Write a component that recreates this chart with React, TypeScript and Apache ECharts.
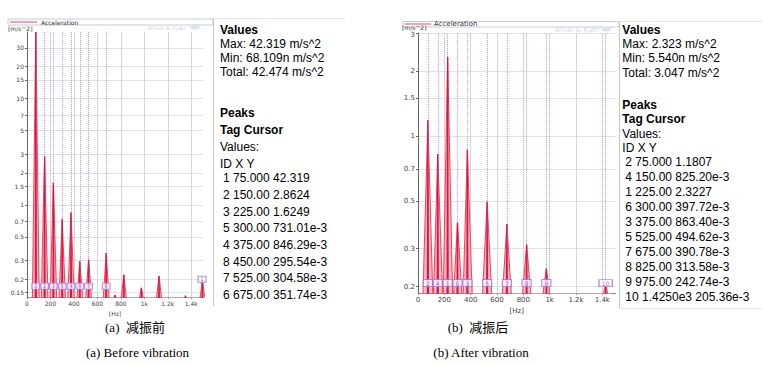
import React, { useEffect, useRef } from "react";
import * as echarts from "echarts";

// ---------- data ----------
const leftTagIds = ["1", "2", "3", "5", "4", "8", "7", "6"];
const leftTagX = ["75.000", "150.00", "225.00", "300.00", "375.00", "450.00", "525.00", "675.00"];
const leftTagY = ["42.319", "2.8624", "1.6249", "731.01e-3", "846.29e-3", "295.54e-3", "304.58e-3", "351.74e-3"];
const leftMinorHz = [750, 825, 975, 1125, 1350, 1495];
const leftMinorVal = [0.142, 0.22, 0.166, 0.214, 0.14, 0.197];
const leftEdgeTagId = ["1"];
const leftEdgeTagHz = [1492];
const leftEdgeTagVal = [0.2];

const rightTagIds = ["2", "4", "1", "6", "3", "5", "7", "8", "9", "10"];
const rightTagX = ["75.000", "150.00", "225.00", "300.00", "375.00", "525.00", "675.00", "825.00", "975.00", "1.4250e3"];
const rightTagY = ["1.1807", "825.20e-3", "2.3227", "397.72e-3", "863.40e-3", "494.62e-3", "390.78e-3", "313.58e-3", "242.74e-3", "205.36e-3"];

const leftYTicks = [0.15, 0.2, 0.3, 0.5, 0.7, 1, 1.5, 2, 3, 5, 7, 10, 15, 20, 30];
const rightYTicks = [0.2, 0.3, 0.5, 0.7, 1, 1.5, 2, 3];
const xTicks = [0, 200, 400, 600, 800, 1000, 1200, 1400];
const xTickLabels = ["0", "200", "400", "600", "800", "1k", "1.2k", "1.4k"];

const leftStats = ["Max: 42.319 m/s^2", "Min: 68.109n m/s^2", "Total: 42.474 m/s^2"];
const rightStats = ["Max: 2.323 m/s^2", "Min: 5.540n m/s^2", "Total: 3.047 m/s^2"];

const captionsCn = ["(a)  减振前", "(b)  减振后"];
const captionsEn = ["(a) Before vibration", "(b) After vibration"];

// ---------- helpers ----------
const lg = (v: number) => Math.log10(v);
const tickText = (v: number) => String(Number(Math.pow(10, v).toPrecision(2)));

function spikes(hz: number[], vals: number[], hw: number, floor: number) {
  const pairs = hz.map((h, i) => [h, vals[i]]).sort((a, b) => a[0] - b[0]);
  const pts: number[][] = [];
  for (const [h, v] of pairs) {
    pts.push([h - hw, lg(floor)], [h, lg(v)], [h + hw, lg(floor)]);
  }
  return pts;
}

const SANS = "'Liberation Sans', Arial, sans-serif";
const AX = "'DejaVu Sans', Verdana, sans-serif";
const SERIF = "'Liberation Serif', 'Times New Roman', 'Noto Sans CJK SC', serif";

function txt(x: number, y: number, text: string, o: any = {}) {
  return {
    type: "text",
    x,
    y,
    silent: true,
    z: 100,
    style: {
      text,
      fontSize: o.size ?? 12,
      fontFamily: o.family ?? SANS,
      fontWeight: o.bold ? "bold" : "normal",
      fill: o.color ?? "#000",
      align: o.align ?? "left",
      textAlign: o.align ?? "left",
      verticalAlign: "middle",
      textVerticalAlign: "middle",
    },
  };
}
function ln(x1: number, y1: number, x2: number, y2: number, color: string, w = 1) {
  return { type: "line", silent: true, z: 100, shape: { x1, y1, x2, y2 }, style: { stroke: color, lineWidth: w } };
}

const panels = [
  {
    grid: { left: 27, top: 32, width: 176, height: 265 },
    yMin: 0.136,
    yMax: 42.3,
    yTicks: leftYTicks,
    hw: 30,
    floor: 0.11,
    tagLevel: 0.172,
    font: 6,
    ids: leftTagIds,
    xs: leftTagX,
    ys: leftTagY,
    minorHz: leftMinorHz,
    minorVal: leftMinorVal,
    extraIds: leftEdgeTagId,
    extraHz: leftEdgeTagHz,
    extraVal: leftEdgeTagVal,
  },
  {
    grid: { left: 418, top: 33, width: 197.5, height: 260 },
    yMin: 0.187,
    yMax: 3.0,
    yTicks: rightYTicks,
    hw: 40,
    floor: 0.16,
    tagLevel: 0.208,
    font: 7,
    ids: rightTagIds,
    xs: rightTagX,
    ys: rightTagY,
    minorHz: [] as number[],
    minorVal: [] as number[],
    extraIds: [] as string[],
    extraHz: [] as number[],
    extraVal: [] as number[],
  },
];

function buildOption() {
  const grid: any[] = [];
  const xAxis: any[] = [];
  const yAxis: any[] = [];
  const series: any[] = [];

  panels.forEach((p, i) => {
    grid.push({ ...p.grid, containLabel: false });
    xAxis.push({
      type: "value",
      gridIndex: i,
      min: 0,
      max: 1500,
      interval: 200,
      name: "[Hz]",
      nameLocation: "middle",
      nameGap: p.font + 5,
      nameTextStyle: { fontSize: p.font, fontFamily: AX, color: "#444" },
      axisLine: { show: true, onZero: false, lineStyle: { color: "#888", width: 1 } },
      axisTick: { show: true, length: 2, lineStyle: { color: "#888" }, customValues: xTicks },
      axisLabel: {
        fontSize: p.font,
        fontFamily: AX,
        color: "#444",
        margin: 3,
        customValues: xTicks,
        formatter: (v: number) => xTickLabels[xTicks.indexOf(v)] ?? String(v),
      },
      splitLine: { show: true, lineStyle: { color: "#d4d4d4", width: 1 } },
    });
    const yt = p.yTicks.map(lg);
    const topTick = yt[yt.length - 1];
    yAxis.push({
      type: "value",
      gridIndex: i,
      min: lg(p.yMin),
      max: lg(p.yMax),
      axisLine: { show: true, onZero: false, lineStyle: { color: "#666", width: 1 } },
      axisTick: { show: true, length: 2, lineStyle: { color: "#666" }, customValues: yt },
      axisLabel: {
        fontSize: p.font,
        fontFamily: AX,
        color: "#444",
        margin: 3,
        customValues: yt,
        formatter: (v: number) => (i === 1 && Math.abs(v - topTick) < 1e-9 ? `{top|${tickText(v)}}` : tickText(v)),
        rich: { top: { fontSize: p.font, fontFamily: AX, color: "#444", padding: [4, 0, 0, 0] } },
      },
      splitLine: { show: true, lineStyle: { color: "#e2e2e2", width: 1 } },
    });

    const tagHz = p.xs.map(Number);
    const tagVal = p.ys.map(Number);
    const allHz = tagHz.concat(p.minorHz);
    const allVal = tagVal.concat(p.minorVal);

    series.push({
      type: "line",
      name: "Acceleration",
      xAxisIndex: i,
      yAxisIndex: i,
      data: spikes(allHz, allVal, p.hw, p.floor),
      symbol: "none",
      clip: true,
      silent: true,
      lineStyle: { color: "#ef4a5a", width: 1.1 },
      areaStyle: { color: "#f9bcc4", opacity: 1, origin: "start" },
      z: 1,
    });
    series.push({
      type: "line",
      name: "cursors",
      xAxisIndex: i,
      yAxisIndex: i,
      data: [],
      silent: true,
      z: 2,
      markLine: {
        silent: true,
        z: 2,
        symbol: "none",
        animation: false,
        label: { show: false },
        lineStyle: { color: "#b994ee", type: "dotted", width: 1 },
        data: tagHz.map((h) => ({ xAxis: h })),
      },
    });
    series.push({
      type: "line",
      name: "core",
      xAxisIndex: i,
      yAxisIndex: i,
      data: spikes(allHz, allVal, 4, p.floor),
      symbol: "none",
      clip: true,
      silent: true,
      lineStyle: { color: "#d6174d", width: 1.3 },
      z: 3,
    });
    const tagItems = tagHz
      .map((h, k) => ({ name: p.ids[k], value: [h, lg(p.tagLevel)] }))
      .concat(p.extraHz.map((h, k) => ({ name: p.extraIds[k], value: [h, lg(p.extraVal[k])] })));
    series.push({
      type: "scatter",
      xAxisIndex: i,
      yAxisIndex: i,
      silent: true,
      clip: false,
      z: 6,
      symbol: "rect",
      symbolSize: (v: any, params: any) => [params.name.length > 1 ? p.font * 1.9 : p.font * 1.3, p.font],
      itemStyle: { color: "#ffffff", borderColor: "#9c6fe4", borderWidth: 1 },
      label: {
        show: true,
        position: "inside",
        formatter: "{b}",
        fontSize: p.font - 1,
        fontFamily: AX,
        color: "#7a4ed6",
      },
      data: tagItems,
    });
  });

  const g: any[] = [];
  // legends / headers of the charts
  g.push({ type: "rect", silent: true, z: 100, shape: { x: 8, y: 19, width: 205, height: 6 }, style: { fill: "none", stroke: "#c3ccdc", lineWidth: 1 } });
  g.push(ln(10, 22, 37, 22, "#f5a3ab", 2));
  g.push(txt(41, 22, "Acceleration", { size: 6, family: AX, color: "#333" }));
  g.push(txt(8, 28.5, "[m/s^2]", { size: 6, family: AX, color: "#333" }));
  g.push(txt(148, 27.5, "Brüel & Kjær", { size: 6, family: AX, color: "#d6dce6" }));
  g.push({ type: "ellipse", silent: true, z: 100, shape: { cx: 195, cy: 27.5, rx: 5, ry: 2 }, style: { fill: "#dbe3ef" } });

  g.push({ type: "rect", silent: true, z: 100, shape: { x: 403, y: 21.5, width: 216, height: 5.5 }, style: { fill: "none", stroke: "#c3ccdc", lineWidth: 1 } });
  g.push(ln(405, 24, 431, 24, "#f5a3ab", 2));
  g.push(txt(434, 24, "Acceleration", { size: 7, family: AX, color: "#333" }));
  g.push(txt(402, 27.8, "[m/s^2]", { size: 6, family: AX, color: "#333" }));
  g.push(txt(555, 29.5, "Brüel & Kjær", { size: 7, family: AX, color: "#d6dce6" }));
  g.push({ type: "ellipse", silent: true, z: 100, shape: { cx: 606, cy: 29.5, rx: 5, ry: 2 }, style: { fill: "#dbe3ef" } });

  // panel borders
  g.push(ln(213.5, 18, 213.5, 306, "#c8c8c8"));
  g.push(ln(213.5, 18.5, 345, 18.5, "#e4e4e4"));
  g.push(ln(619.5, 21, 619.5, 308, "#c8c8c8"));
  g.push(ln(619.5, 21.5, 762, 21.5, "#e4e4e4"));
  g.push(ln(619.5, 308.5, 762, 308.5, "#e4e4e4"));

  // side texts
  const side = [
    { x: 220, ys: [30, 44.3, 58.3, 72.3], peaks: 113.3, tag: 130, vals: 146.7, head: 164, row0: 178.3, step: 16.67, stats: leftStats, ids: leftTagIds, xs: leftTagX, yv: leftTagY },
    { x: 622.3, ys: [30, 44.3, 58.3, 72.7], peaks: 105, tag: 119.3, vals: 134, head: 148, row0: 162.3, step: 14.93, stats: rightStats, ids: rightTagIds, xs: rightTagX, yv: rightTagY },
  ];
  side.forEach((s) => {
    g.push(txt(s.x, s.ys[0], "Values", { bold: true }));
    s.stats.forEach((t, k) => g.push(txt(s.x, s.ys[k + 1], t)));
    g.push(txt(s.x, s.peaks, "Peaks", { bold: true }));
    g.push(txt(s.x, s.tag, "Tag Cursor", { bold: true }));
    g.push(txt(s.x, s.vals, "Values:"));
    g.push(txt(s.x, s.head, "ID X Y"));
    s.ids.forEach((id, k) => g.push(txt(s.x + 3, s.row0 + k * s.step, `${id} ${s.xs[k]} ${s.yv[k]}`)));
  });

  // captions
  g.push(txt(135, 327, captionsCn[0], { size: 13, family: SERIF, align: "center" }));
  g.push(txt(137.5, 352.7, captionsEn[0], { size: 13, family: SERIF, align: "center" }));
  g.push(txt(478, 327, captionsCn[1], { size: 13, family: SERIF, align: "center" }));
  g.push(txt(481, 352.7, captionsEn[1], { size: 13, family: SERIF, align: "center" }));

  return {
    animation: false,
    backgroundColor: "#ffffff",
    grid,
    xAxis,
    yAxis,
    series,
    graphic: { elements: g },
  };
}

export default function App() {
  const ref = useRef<HTMLDivElement>(null);
  useEffect(() => {
    if (!ref.current) return;
    const chart = echarts.init(ref.current, undefined, { renderer: "svg" });
    chart.setOption(buildOption() as any);
    return () => chart.dispose();
  }, []);
  return (
    <div
      ref={ref}
      style={{ position: "fixed", left: 0, top: 0, width: 763, height: 365, background: "#fff" }}
    />
  );
}
